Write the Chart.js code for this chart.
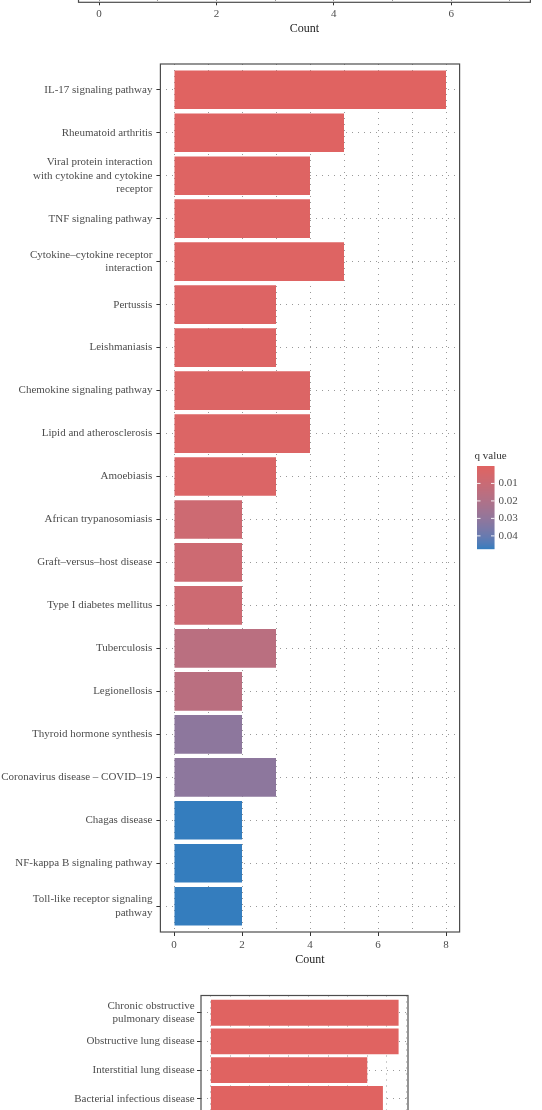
<!DOCTYPE html>
<html>
<head>
<meta charset="utf-8">
<script src="https://cdn.jsdelivr.net/npm/chart.js@4.4.0/dist/chart.umd.min.js"></script>
<style>
  html, body { margin: 0; padding: 0; background: #fff; overflow: hidden; }
  body { width: 542px; height: 1110px; position: relative; }
  .box { position: absolute; left: 0; width: 542px; }
</style>
</head>
<body>
<div class="box" style="top:-60px;height:98px"><canvas id="topChart"></canvas></div>
<div class="box" style="top:50px;height:920px"><canvas id="mainChart"></canvas></div>
<div class="box" style="top:980px;height:174px"><canvas id="botChart"></canvas></div>

<script>
// main panel: KEGG pathways
const pathways = [
  "IL-17 signaling pathway",
  "Rheumatoid arthritis",
  "Viral protein interaction\nwith cytokine and cytokine\nreceptor",
  "TNF signaling pathway",
  "Cytokine\u2013cytokine receptor\ninteraction",
  "Pertussis",
  "Leishmaniasis",
  "Chemokine signaling pathway",
  "Lipid and atherosclerosis",
  "Amoebiasis",
  "African trypanosomiasis",
  "Graft\u2013versus\u2013host disease",
  "Type I diabetes mellitus",
  "Tuberculosis",
  "Legionellosis",
  "Thyroid hormone synthesis",
  "Coronavirus disease \u2013 COVID\u201319",
  "Chagas disease",
  "NF-kappa B signaling pathway",
  "Toll-like receptor signaling\npathway"
];
const pathwayCounts = [8, 5, 4, 4, 5, 3, 3, 4, 4, 3, 2, 2, 2, 3, 2, 2, 3, 2, 2, 2];
const pathwayQ = [0.00003, 0.0004, 0.0008, 0.0008, 0.001, 0.0015, 0.0015, 0.002, 0.002, 0.0025,
                  0.0085, 0.0085, 0.0085, 0.016, 0.016, 0.031, 0.031, 0.0475, 0.0475, 0.0475];
const countTicks = [0, 1, 2, 3, 4, 5, 6, 7, 8];
const qTicks = [0.01, 0.02, 0.03, 0.04];

// top panel (only its x axis is visible)
const topTicks = [0, 1, 2, 3, 4, 5, 6, 7];

// bottom panel (only its first rows are visible)
const diseases = [
  "Chronic obstructive\npulmonary disease",
  "Obstructive lung disease",
  "Interstitial lung disease",
  "Bacterial infectious disease"
];
const diseaseCounts = [48, 48, 40, 44];
const diseaseQ = [0.00003, 0.00003, 0.00003, 0.00003];
const botTicks = [0, 5, 10, 15, 20, 25, 30, 35, 40, 45, 50];

const FONT = "'Liberation Serif', 'DejaVu Serif', serif";
const TEXT = '#4d4d4d';
const GRID = '#999999';

const qMin = Math.min(...pathwayQ);
const qMax = Math.max(...pathwayQ);
const LOW = [224, 99, 97];
const HIGH = [52, 125, 190];

// colour ramp in Lab, like ggplot
function lin(c) { c /= 255; return c <= 0.04045 ? c / 12.92 : Math.pow((c + 0.055) / 1.055, 2.4); }
function unlin(c) { c = c <= 0.0031308 ? 12.92 * c : 1.055 * Math.pow(c, 1 / 2.4) - 0.055; return Math.round(Math.max(0, Math.min(1, c)) * 255); }
function toLab(rgb) {
  const [r, g, b] = rgb.map(lin);
  let x = (r * 0.4124 + g * 0.3576 + b * 0.1805) / 0.95047;
  let y = (r * 0.2126 + g * 0.7152 + b * 0.0722);
  let z = (r * 0.0193 + g * 0.1192 + b * 0.9505) / 1.08883;
  const f = t => t > 0.008856 ? Math.cbrt(t) : 7.787 * t + 16 / 116;
  x = f(x); y = f(y); z = f(z);
  return [116 * y - 16, 500 * (x - y), 200 * (y - z)];
}
function fromLab(lab) {
  let y = (lab[0] + 16) / 116, x = lab[1] / 500 + y, z = y - lab[2] / 200;
  const fi = t => t * t * t > 0.008856 ? t * t * t : (t - 16 / 116) / 7.787;
  x = fi(x) * 0.95047; y = fi(y); z = fi(z) * 1.08883;
  const r = x * 3.2406 + y * -1.5372 + z * -0.4986;
  const g = x * -0.9689 + y * 1.8758 + z * 0.0415;
  const b = x * 0.0557 + y * -0.2040 + z * 1.0570;
  return 'rgb(' + unlin(r) + ',' + unlin(g) + ',' + unlin(b) + ')';
}
const labLow = toLab(LOW), labHigh = toLab(HIGH);
function qColor(q) {
  const t = Math.min(1, Math.max(0, (q - qMin) / (qMax - qMin)));
  return fromLab(labLow.map((v, i) => v + (labHigh[i] - v) * t));
}

const framePlugin = {
  id: 'frame',
  afterDraw(chart) {
    const a = chart.chartArea, ctx = chart.ctx;
    ctx.save();
    ctx.strokeStyle = '#4d4d4d';
    ctx.lineWidth = 1.2;
    ctx.strokeRect(a.left, a.top, a.right - a.left, a.bottom - a.top);
    ctx.restore();
  }
};

// colourbar legend of the main panel
const legendPlugin = {
  id: 'qLegend',
  afterDraw(chart) {
    const ctx = chart.ctx;
    const x0 = 477, w = 17.5, y0 = 416, h = 83;
    const yOf = q => y0 + (q - qMin) / (qMax - qMin) * h;
    ctx.save();
    for (let i = 0; i < h; i++) {
      ctx.fillStyle = qColor(qMin + (i + 0.5) / h * (qMax - qMin));
      ctx.fillRect(x0, y0 + i, w, 1.2);
    }
    ctx.font = '11px ' + FONT;
    ctx.fillStyle = '#333';
    ctx.textBaseline = 'middle';
    ctx.textAlign = 'left';
    ctx.fillText('q value', 474.5, 406.5);
    ctx.fillStyle = TEXT;
    ctx.strokeStyle = 'rgba(255,255,255,0.9)';
    ctx.lineWidth = 1;
    qTicks.forEach(q => {
      const y = yOf(q);
      ctx.beginPath();
      ctx.moveTo(x0, y); ctx.lineTo(x0 + 3.5, y);
      ctx.moveTo(x0 + w - 3.5, y); ctx.lineTo(x0 + w, y);
      ctx.stroke();
      ctx.fillText(q.toFixed(2), 498.6, y);
    });
    ctx.restore();
  }
};

function tickFont(size) { return { family: FONT, size: size, lineHeight: 1.25 }; }

function noPad(s) { s.paddingTop = 0; s.paddingBottom = 0; s.paddingLeft = 0; s.paddingRight = 0; }

function countAxis(min, max, ticks, labelEvery, height, titlePad, tickLen, tickPad) {
  return {
    type: 'linear', min: min, max: max, offset: false,
    afterBuildTicks: s => { s.ticks = ticks.map(v => ({ value: v })); },
    afterFit: s => { s.height = height; noPad(s); },
    ticks: {
      autoSkip: false, maxRotation: 0, padding: tickPad, color: TEXT, font: tickFont(11),
      callback: v => (v % labelEvery === 0 ? String(v) : '')
    },
    grid: {
      offset: false, color: GRID, lineWidth: 1, tickLength: tickLen, tickBorderDash: [],
      tickColor: c => (c.tick && c.tick.value % labelEvery === 0 ? '#333' : 'rgba(0,0,0,0)')
    },
    border: { display: false, dash: [1, 5] },
    title: { display: true, text: 'Count', color: '#222', font: { family: FONT, size: 12 }, padding: { top: 0, bottom: titlePad } }
  };
}

function nameAxis(names, width, tickPad) {
  return {
    type: 'linear', reverse: true, offset: false, min: -0.6, max: names.length - 0.4,
    afterBuildTicks: s => { s.ticks = names.map((_, i) => ({ value: i })); },
    afterFit: s => { s.width = width; noPad(s); },
    ticks: {
      autoSkip: false, padding: tickPad, color: TEXT, font: tickFont(11),
      callback: v => (names[v] !== undefined ? names[v].split('\n') : '')
    },
    grid: { offset: false, color: GRID, lineWidth: 1, tickLength: 4, tickColor: '#333', tickBorderDash: [] },
    border: { display: false, dash: [1, 5] }
  };
}

function barChart(id, names, counts, qs, xAxis, yWidth, yPad, padding, extra) {
  return new Chart(document.getElementById(id), {
    type: 'bar',
    data: {
      datasets: [{
        data: names.map((_, i) => ({ x: counts[i], y: i })),
        backgroundColor: qs.map(qColor),
        borderWidth: 0,
        barPercentage: 0.9,
        categoryPercentage: 1
      }]
    },
    options: {
      indexAxis: 'y',
      responsive: true,
      maintainAspectRatio: false,
      animation: false,
      layout: { padding: padding },
      plugins: { legend: { display: false }, tooltip: { enabled: false } },
      scales: { x: xAxis, y: nameAxis(names, yWidth, yPad) }
    },
    plugins: [framePlugin].concat(extra)
  });
}

// top panel: just the axis that shows above the main chart
new Chart(document.getElementById('topChart'), {
  type: 'bar',
  data: { datasets: [] },
  options: {
    responsive: true,
    maintainAspectRatio: false,
    animation: false,
    layout: { padding: { top: 0, right: 11.6, bottom: 0, left: 78.5 } },
    plugins: { legend: { display: false }, tooltip: { enabled: false } },
    scales: {
      x: countAxis(-0.35, 7.35, topTicks, 2, 35.7, 1.8, 3, 1.5),
      y: { display: false, min: 0, max: 1 }
    }
  },
  plugins: [framePlugin]
});

barChart('mainChart', pathways, pathwayCounts, pathwayQ,
  countAxis(-0.4, 8.4, countTicks, 2, 38, 2.8, 4, 2),
  160.4, 4, { top: 14, right: 82.4, bottom: 0, left: 0 }, [legendPlugin]);

barChart('botChart', diseases, diseaseCounts, diseaseQ,
  countAxis(-2.4, 50.4, botTicks, 10, 38, 2.8, 4, 2),
  201, 2.4, { top: 15.5, right: 134, bottom: 0, left: 0 }, []);
</script>
</body>
</html>
